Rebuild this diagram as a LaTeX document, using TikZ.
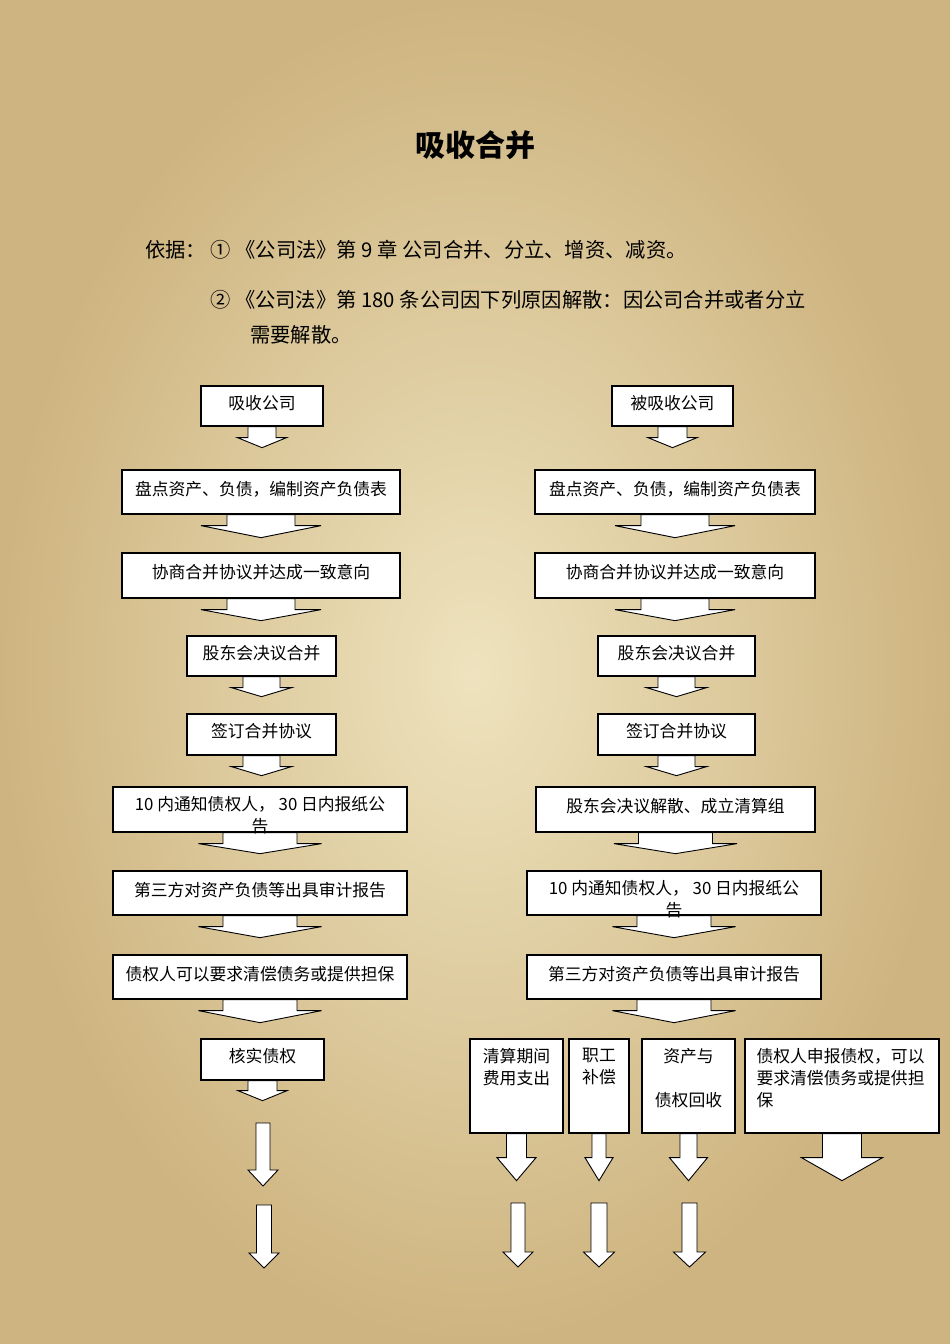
\documentclass[tikz,border=0pt]{standalone}
\usepackage{fontspec}
\setmainfont{Noto Sans CJK SC}
\usetikzlibrary{calc}

\definecolor{paperlight}{RGB}{238,227,190}
\definecolor{paperdark}{RGB}{206,180,128}

% block arrow: #1 start point, #2 stem half width, #3 head half width, #4 stem length, #5 full length
\newcommand{\flowarrow}[5]{%
  \draw[blockarrow] ($#1+(-#2,0)$) -- ($#1+(-#2,-#4)$) -- ($#1+(-#3,-#4)$) -- ($#1+(0,-#5)$)
    -- ($#1+(#3,-#4)$) -- ($#1+(#2,-#4)$) -- ($#1+(#2,0)$) -- cycle;}

\begin{document}
\begin{tikzpicture}[x=1pt,y=1pt]
\tikzstyle{box} = [draw, fill=white, line width=1.3pt, inner sep=2pt, align=center, text height=13pt, text depth=7pt, font=\fontsize{16.8}{22}\selectfont] % stage box
\tikzstyle{blockarrow} = [draw, fill=white, line width=0.9pt, line join=miter] % wide arrow
\tikzstyle{boxtext} = [inner sep=0pt, align=center, font=\fontsize{16.8}{22}\selectfont] % text of the tall boxes
\tikzstyle{basis} = [anchor=west, inner sep=0pt, font=\fontsize{20.3}{24}\selectfont] % lines under the title

% paper
\shade[inner color=paperlight, outer color=paperdark] (0,0) rectangle (950,-1344);
\useasboundingbox (0,0) rectangle (950,-1344);

% title and basis
\node[font=\bfseries\fontsize{30}{36}\selectfont] (title) at (475,-145) {吸收合并};
\node[basis] (basis1) at (145,-250) {依据： ① 《公司法》第 9 章 公司合并、分立、增资、减资。};
\node[basis] (basis2) at (210,-300) {② 《公司法》第 180 条公司因下列原因解散：因公司合并或者分立};
\node[basis] (basis3) at (250,-335) {需要解散。};

% left column
\node[box, minimum width=122pt, minimum height=40pt] (l1) at (262,-406) {吸收公司};
\node[box, minimum width=278pt, minimum height=44pt] (l2) at (261,-492) {盘点资产、负债，编制资产负债表};
\node[box, minimum width=278pt, minimum height=45pt] (l3) at (261,-575.5) {协商合并协议并达成一致意向};
\node[box, minimum width=149pt, minimum height=40pt] (l4) at (261.5,-656) {股东会决议合并};
\node[box, minimum width=149pt, minimum height=41pt] (l5) at (261.5,-734.5) {签订合并协议};
\node[box, minimum width=294pt, minimum height=45pt] (l6) at (260,-809.5) {};
\node[box, minimum width=294pt, minimum height=44pt] (l7) at (260,-893) {第三方对资产负债等出具审计报告};
\node[box, minimum width=294pt, minimum height=44pt] (l8) at (260,-977) {债权人可以要求清偿债务或提供担保};
\node[box, minimum width=123pt, minimum height=41pt] (l9) at (262.5,-1059.5) {核实债权};

\flowarrow{(l1.south)}{14}{24.5}{11}{21}
\flowarrow{(l2.south)}{34}{60}{11}{23}
\flowarrow{(l3.south)}{34}{60}{11}{22}
\flowarrow{(l4.south)}{18.5}{30}{11}{20}
\flowarrow{(l5.south)}{18.5}{30}{11}{20}
\flowarrow{(l6.south)}{37}{61.5}{11}{21}
\flowarrow{(l7.south)}{37}{61.5}{11}{22}
\flowarrow{(l8.south)}{37}{61.5}{11}{23}
\flowarrow{(l9.south)}{14.5}{24.5}{10}{20}
\node[boxtext] (l6text) at ($(l6)+(0,-6)$) {10 内通知债权人， 30 日内报纸公\\告}; % text runs over the arrow

\coordinate (la) at (263,-1123);
\coordinate (lb) at (264,-1205);
\flowarrow{(la)}{7}{15}{47}{63}
\flowarrow{(lb)}{7.5}{15}{48}{63}

% right column
\node[box, minimum width=121pt, minimum height=40pt] (r1) at (672.5,-406) {被吸收公司};
\node[box, minimum width=280pt, minimum height=44pt] (r2) at (675,-492) {盘点资产、负债，编制资产负债表};
\node[box, minimum width=280pt, minimum height=45pt] (r3) at (675,-575.5) {协商合并协议并达成一致意向};
\node[box, minimum width=157pt, minimum height=40pt] (r4) at (676.5,-656) {股东会决议合并};
\node[box, minimum width=157pt, minimum height=41pt] (r5) at (676.5,-734.5) {签订合并协议};
\node[box, minimum width=279pt, minimum height=45pt] (r6) at (675.5,-809.5) {股东会决议解散、成立清算组};
\node[box, minimum width=294pt, minimum height=44pt] (r7) at (674,-893) {};
\node[box, minimum width=294pt, minimum height=44pt] (r8) at (674,-977) {第三方对资产负债等出具审计报告};

\node[box, minimum width=93pt, minimum height=94pt,
  label={[boxtext, anchor=north, yshift=-10pt]north:{清算期间\\费用支出}}] (ra) at (516.5,-1086) {};
\node[box, minimum width=60pt, minimum height=94pt,
  label={[boxtext, anchor=north, yshift=-10pt]north:{职工\\补偿}}] (rb) at (599,-1086) {};
\node[box, minimum width=93pt, minimum height=94pt,
  label={[boxtext, anchor=north, yshift=-10pt]north:{资产与\\ \\债权回收}}] (rc) at (688.5,-1086) {};
\node[box, minimum width=194pt, minimum height=94pt,
  label={[boxtext, align=left, anchor=north west, xshift=12pt, yshift=-10pt]north west:{债权人申报债权，可以\\要求清偿债务或提供担\\保}}] (rd) at (842,-1086) {};

\flowarrow{(r1.south)}{14.5}{24.5}{11}{21}
\flowarrow{(r2.south)}{34}{60}{11}{23}
\flowarrow{(r3.south)}{34}{60}{11}{22}
\flowarrow{(r4.south)}{18.5}{30}{11}{20}
\flowarrow{(r5.south)}{18.5}{30}{11}{20}
\flowarrow{(r6.south)}{37}{61.5}{11}{21}
\flowarrow{(r7.south)}{37}{61.5}{11}{22}
\flowarrow{(r8.south)}{37}{61.5}{11}{23}
\flowarrow{(ra.south)}{10}{19.5}{24}{47}
\flowarrow{(rb.south)}{7}{14}{24}{47}
\flowarrow{(rc.south)}{8.5}{19}{24}{47}
\flowarrow{(rd.south)}{19.5}{40.5}{24}{47}
\node[boxtext] (r7text) at ($(r7)+(0,-6)$) {10 内通知债权人， 30 日内报纸公\\告};

\coordinate (rx) at (518,-1203);
\coordinate (ry) at (599,-1203);
\coordinate (rz) at (689.5,-1203);
\flowarrow{(rx)}{7}{15}{49}{64}
\flowarrow{(ry)}{8}{15.5}{49}{64}
\flowarrow{(rz)}{7.5}{16}{49}{64}
\end{tikzpicture}
\end{document}
